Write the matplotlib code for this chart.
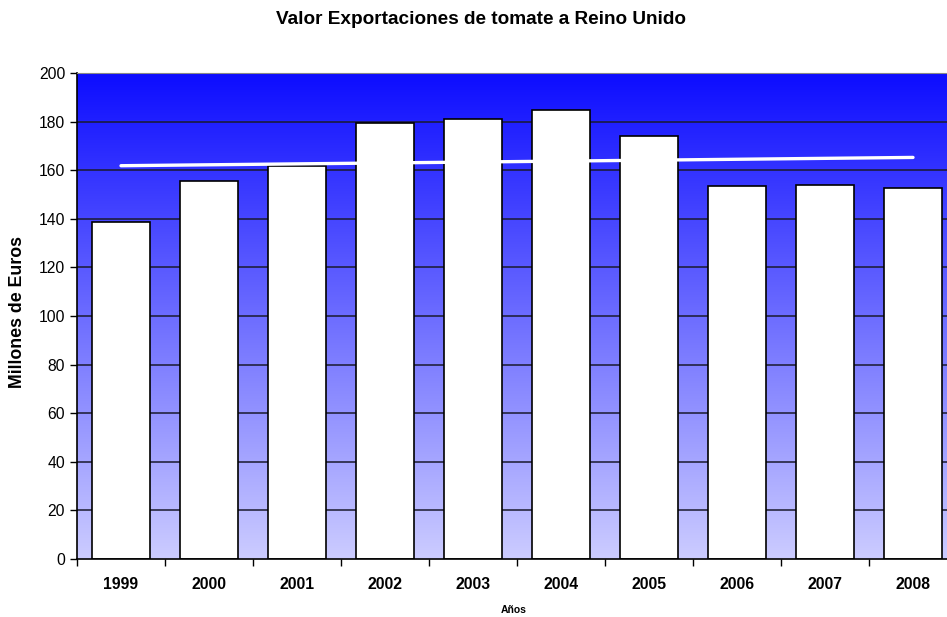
import numpy as np
import matplotlib.pyplot as plt
from matplotlib.colors import LinearSegmentedColormap
from matplotlib.ticker import FixedLocator

plt.rcParams['font.family'] = ['Liberation Sans', 'DejaVu Sans']

years = ['1999', '2000', '2001', '2002', '2003', '2004', '2005', '2006', '2007', '2008']
values = [138.8, 155.4, 161.6, 179.5, 181.2, 184.7, 174.1, 153.4, 154.0, 152.8]

x = np.arange(len(years))

fig = plt.figure(figsize=(9.47, 6.17), dpi=100)
ax = fig.add_axes([77 / 947, 58 / 617, 880 / 947, 486 / 617])

# gradient background, dark blue on top to lavender at the bottom
cmap = LinearSegmentedColormap.from_list('bg', [(0.80, 0.80, 1.0), (0.05, 0.05, 1.0)])
grad = np.linspace(0, 1, 256).reshape(-1, 1)
ax.imshow(grad, extent=[-0.5, 9.5, 0, 200], origin='lower', aspect='auto',
          cmap=cmap, zorder=0)

for yv in range(20, 200, 20):
    ax.axhline(yv, color='#1a1a2e', lw=1.1, zorder=1)

ax.bar(x, values, width=0.67, color='white', edgecolor='black', lw=1.2, zorder=2)

# linear trend of the bars
coef = np.polyfit(x, values, 1)
ax.plot(x, np.polyval(coef, x), color='white', lw=2.4, solid_capstyle='round', zorder=3)

ax.set_xlim(-0.5, 9.5)
ax.set_ylim(0, 200)
ax.set_yticks(range(0, 201, 20))
ax.tick_params(axis='y', labelsize=11.3, length=5, width=1, direction='out')
ax.set_xticks(x)
ax.set_xticklabels(years, fontweight='bold', fontsize=11.3)
ax.tick_params(axis='x', which='major', length=0, pad=13)
ax.xaxis.set_minor_locator(FixedLocator(np.arange(-0.5, 10, 1)))
ax.tick_params(axis='x', which='minor', length=5, width=1, direction='out')

for s in ['left', 'bottom']:
    ax.spines[s].set_linewidth(1.2)
ax.spines['top'].set_color('#888888')
ax.spines['right'].set_visible(False)

fig.text(18 / 947, 1 - 312 / 617, 'Millones de Euros', fontsize=12.8, fontweight='bold',
         rotation=90, ha='center', va='center')
fig.text(514 / 947, 1 - 610 / 617, 'Años', fontsize=7.5, fontweight='bold', ha='center', va='center')
fig.text(481 / 947, 1 - 20 / 617, 'Valor Exportaciones de tomate a Reino Unido',
         fontsize=13.7, fontweight='bold', ha='center', va='center')

fig.savefig('out.png', dpi=100)
